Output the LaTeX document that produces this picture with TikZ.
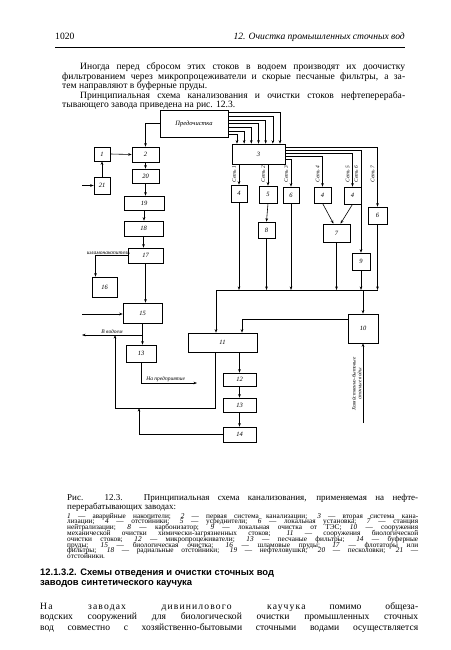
\documentclass[tikz,border=0pt]{standalone}
\usepackage{fontspec}
\setmainfont{Liberation Serif}
\newfontfamily\headfont{Liberation Sans}
\usetikzlibrary{arrows.meta}

\tikzset{
	blk/.style={draw, line width=0.6pt, inner sep=0pt, font=\fontsize{6.5}{7}\selectfont\itshape},
	flow/.style={line width=0.6pt, -{Stealth[length=3.5pt,width=2.6pt]}},
	wire/.style={line width=0.6pt},
	net/.style={rotate=90, inner sep=0.5pt, font=\fontsize{5.4}{6}\selectfont\itshape},
	lbl/.style={inner sep=1pt, font=\fontsize{5.5}{6}\selectfont\itshape},
	txt/.style={anchor=base west, inner sep=0pt, font=\fontsize{9.6}{10}\selectfont},
	leg/.style={anchor=base west, inner sep=0pt, font=\fontsize{7.3}{7}\selectfont},
}
\newcommand{\sline}[2]{\makebox[#1pt][s]{#2}}

\begin{document}
\begin{tikzpicture}[x=1pt,y=-1pt]
	\useasboundingbox (0,0) rectangle (450,650);

	% page head
	\node[txt] (pnum) at (55,40) {1020};
	\node[txt, anchor=base east] (head) at (405,40) {\itshape 12. Очистка промышленных сточных вод};
	\draw[line width=0.5pt] (55,47) -- (405,47);

	\node[txt] (p1) at (80,70) {\sline{325}{Иногда перед сбросом этих стоков в водоем производят их доочистку}};
	\node[txt] (p2) at (62,80) {\sline{343}{фильтрованием через микропроцеживатели и скорые песчаные фильтры, а за-}};
	\node[txt] (p3) at (62,89) {тем направляют в буферные пруды.};
	\node[txt] (p4) at (80,99) {\sline{325}{Принципиальная схема канализования и очистки стоков нефтеперераба-}};
	\node[txt] (p5) at (62,108) {тывающего завода приведена на рис. 12.3.};

	% blocks: name/x1/y1/x2/y2/label
	\foreach \n/\xa/\ya/\xb/\yb/\t in {
		pre/160/110/228/137/Предочистка,
		b1/94/147/110/161/1, b21/94/177/110/194/21,
		b2/132/147/159/162/2, b20/132/169/159/183/20,
		b19/124/196/164/210/19, b18/124/221/163/236/18,
		b17/128/248/163/263/17, b16/92/277/117/297/16,
		b15/123/303/162/323/15, b13a/126/345/156/362/13,
		b11/188/333/257/352/11, b12/223/373/256/386/12,
		b13b/223/398/256/412/13, b14/223/427/256/442/14,
		b3/232/144/285/164/3,
		b4a/231/185/247/202/4, b5/259/186/277/203/5,
		b6/283/187/299/203/6, b4b/314/187/331/203/4,
		b4c/344/187/361/204/4, b8/258/222/275/238/8,
		b7/323/224/350/242/7, b9/352/253/370/270/9,
		b8r/368/207/387/224/6, b10/348/314/378/343/10}
		\node[blk, minimum width={(\xb-\xa)*1pt}, minimum height={(\yb-\ya)*1pt}]
			(\n) at ({(\xa+\xb)/2},{(\ya+\yb)/2}) {\t};

	% first system
	\draw[flow] (pre.west) -| (b2.north);
	\draw[flow] (b1.east) -- (b2.west);
	\draw[flow] (b21.north) -- (b1.south);
	\coordinate (in21) at (82,185.5);
	\draw[flow] (in21) -- (b21.west);
	\foreach \a/\b in {b2/b20, b20/b19, b19/b18, b18/b17, b17/b15}
		\draw[flow] (\a.south) -- (\a.south |- \b.north);
	\draw[flow] (b17.west) -| ([xshift=-9pt]b16.north)
		node[lbl, pos=0.3, above] {шламонакопитель};
	\coordinate (in15) at (82,314);
	\draw[flow] (in15) -- (in15 -| b15.west);

	\coordinate (jv) at (142,335);
	\coordinate (sea) at (82,335);
	\draw[flow] (b15.south) -- (b15.south |- b13a.north);
	\draw[flow] (jv) -- (sea) node[lbl, midway, above] {В водоем};
	\coordinate (ent) at (197,383);
	\draw[flow] (b13a.south) |- (ent) node[lbl, pos=0.72, above] {На предприятие};

	% loop back to the outlet
	\coordinate (lp1) at (115,335);
	\coordinate (lp2) at (215,408);
	\coordinate (lp3) at (115,408);
	\coordinate (lp4) at (139,408);
	\draw[flow] (lp2 |- b11.south) -- (lp2) -- (lp3) -- (lp1);
	\draw[flow] (b14.west) -| (lp4);

	% second system
	\foreach \i in {0,...,6}
		\draw[flow] ([yshift={(11-3.67*\i)*1pt}]pre.east) -| ([xshift={(21.5-7.17*\i)*1pt}]b3.north);
	\draw[flow] (b3.south -| b4a) -- (b4a.north);
	\draw[flow] (b3.south -| b5) -- (b5.north);
	\draw[flow] ([yshift=-5pt]b3.east) -| (b6.north);
	\draw[flow] ([yshift=-2pt]b3.east) -| (b4b.north);
	\draw[flow] ([yshift=1pt]b3.east) -| (b4c.north);
	\draw[flow] ([yshift=4pt]b3.east) -| (b9.north);
	\draw[flow] ([yshift=7pt]b3.east) -| (b8r.north);
	\foreach \b/\t in {b4a/1, b5/2, b6/3, b4b/4, b4c/5, b9/6, b8r/7}
		\node[net] (n\t) at ([xshift=-5pt]\b.north |- 0,174) {Сеть \t};

	\draw[flow] (b5.south) -- (b8.north);
	\draw[flow] (b4b.south) -- ([xshift=-3pt]b7.north);
	\draw[flow] (b4c.south) -- ([xshift=4pt]b7.north);

	% collector
	\coordinate (cl) at (216,290);
	\coordinate (cr) at (377.5,290);
	\draw[wire] (cl) -- (cr);
	\foreach \b in {b4a, b8, b6, b7, b9, b8r}
		\draw[flow] (\b.south) -- (\b.south |- cl);
	\draw[flow] (cl) -- (cl |- b11.north);
	\draw[flow] (b10.north |- cl) -- (b10.north);
	\draw[flow] ([yshift=9pt]b10.west) -| ([xshift=19.5pt]b11.north);
	\draw[flow] (b11.south -| b12) -- (b12.north);
	\draw[flow] (b12.south) -- (b13b.north);
	\draw[flow] (b13b.south) -- (b14.north);

	\coordinate (hw) at (363,423);
	\draw[flow] (hw) -- (b10.south);
	\node[net, align=center, font=\fontsize{5.2}{5.6}\selectfont\itshape, anchor=south]
		(hwt) at (362,384) {Хозяйственно-бытовые\\сточные воды};

	% caption
	\node[txt, font=\fontsize{9}{9}\selectfont] (c1) at (67,500) {\sline{351}{Рис. 12.3. Принципиальная схема канализования, применяемая на нефте-}};
	\node[txt, font=\fontsize{9}{9}\selectfont] (c2) at (67,509) {перерабатывающих заводах:};
	\node[leg] (l1) at (67,518) {\sline{351}{\textit{1} — аварийные накопители; \textit{2} — первая система канализации; \textit{3} — вторая система кана-}};
	\node[leg] (l2) at (67,523.8) {\sline{351}{лизации; \textit{4} — отстойники; \textit{5} — усреднители; \textit{6} — локальная установка; \textit{7} — станция}};
	\node[leg] (l3) at (67,529.6) {\sline{351}{нейтрализации; \textit{8} — карбонизатор; \textit{9} — локальная очистка от ТЭС; \textit{10} — сооружения}};
	\node[leg] (l4) at (67,535.4) {\sline{351}{механической очистки химически-загрязненных стоков; \textit{11} — сооружения биологической}};
	\node[leg] (l5) at (67,541.2) {\sline{351}{очистки стоков; \textit{12} — микропроцеживатели; \textit{13} — песчаные фильтры; \textit{14} — буферные}};
	\node[leg] (l6) at (67,547) {\sline{351}{пруды; \textit{15} — биологическая очистка; \textit{16} — шламовые пруды; \textit{17} — флотаторы или}};
	\node[leg] (l7) at (67,552.8) {\sline{351}{фильтры; \textit{18} — радиальные отстойники; \textit{19} — нефтеловушки; \textit{20} — песколовки; \textit{21} —}};
	\node[leg] (l8) at (67,558.6) {отстойники.};

	% next section
	\node[txt, font=\fontsize{9.4}{9}\selectfont\headfont\bfseries] (s1) at (40,575) {12.1.3.2. Схемы отведения и очистки сточных вод};
	\node[txt, font=\fontsize{9.4}{9}\selectfont\headfont\bfseries] (s2) at (40,585) {заводов синтетического каучука};
	\node[txt] (q1) at (40,609) {\sline{378}{{\addfontfeatures{LetterSpace=12}На заводах дивинилового каучука} помимо общеза-}};
	\node[txt] (q2) at (40,619) {\sline{378}{водских сооружений для биологической очистки промышленных сточных}};
	\node[txt] (q3) at (40,630) {\sline{378}{вод совместно с хозяйственно-бытовыми сточными водами осуществляется}};
\end{tikzpicture}
\end{document}
